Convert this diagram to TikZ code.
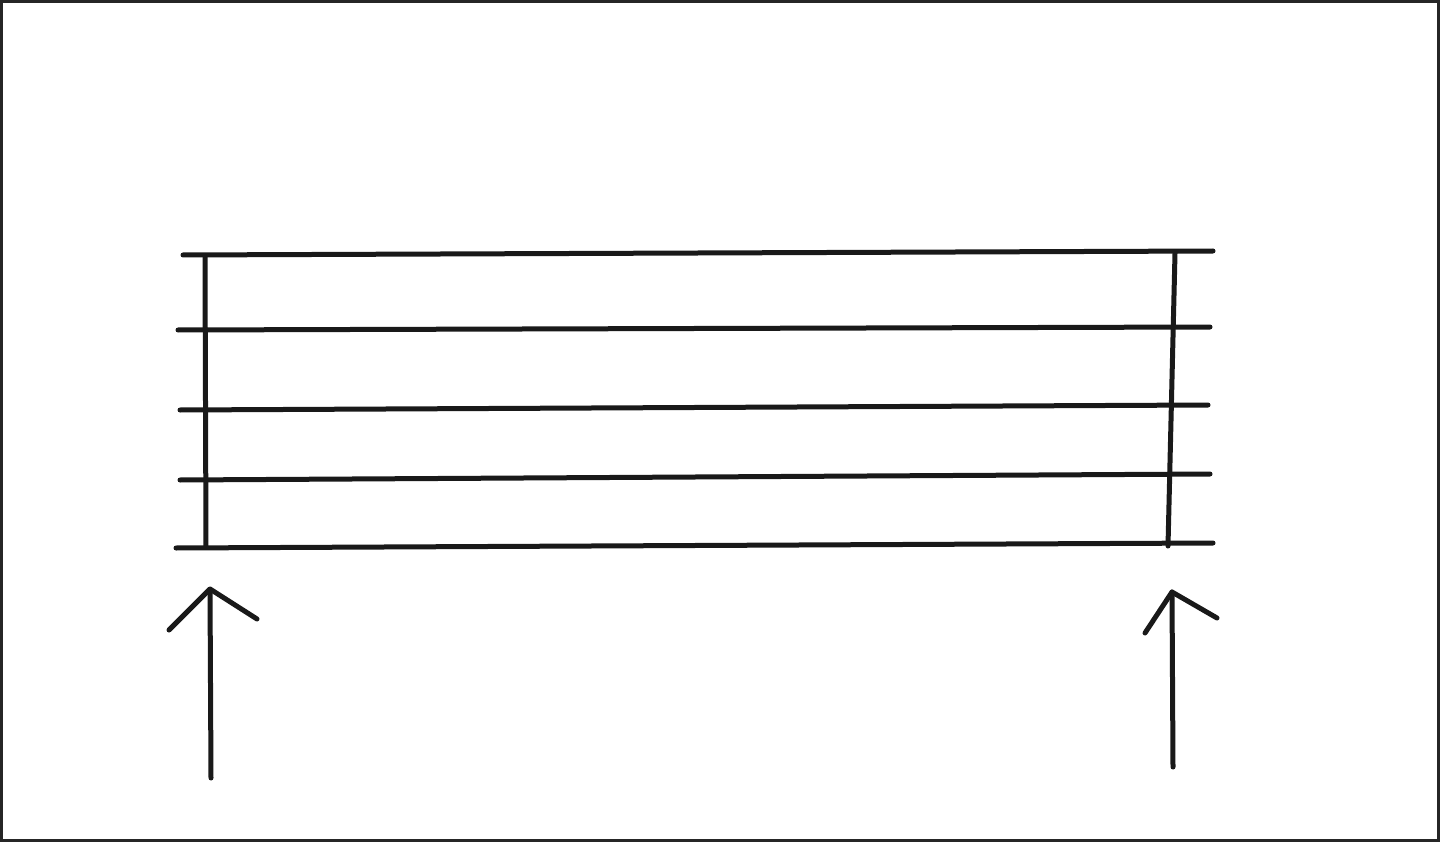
\documentclass[tikz,border=0pt]{standalone}
\begin{document}
\begin{tikzpicture}[x=1pt,y=-1pt,
  frame/.style={line width=3pt,draw=black!85},
  stroke/.style={line width=5pt,line cap=round,line join=round,draw=black!90}]
\useasboundingbox (0,0) rectangle (1440,842);
\fill[white] (0,0) rectangle (1440,842);
\draw[frame] (1.5,1.5) rectangle (1438.5,840.5);
% horizontal lines
\draw[stroke] (183,255) -- (1213,251);
\draw[stroke] (178,330) -- (1210,327);
\draw[stroke] (180,410) -- (1208,405);
\draw[stroke] (180,480) -- (1210,474);
\draw[stroke] (176,548) -- (1213,543);
% vertical lines
\draw[stroke] (205,256) -- (206,547);
\draw[stroke] (1175,253) -- (1168,546);
% left arrow
\coordinate (la) at (211,778);
\coordinate (lt) at (210,589);
\draw[stroke] (la) -- (lt);
\draw[stroke] (169,630) -- (lt) -- (257,619);
% right arrow
\coordinate (ra) at (1173,767);
\coordinate (rt) at (1172,592);
\draw[stroke] (ra) -- (rt);
\draw[stroke] (1145,633) -- (rt) -- (1217,618);
\end{tikzpicture}
\end{document}
